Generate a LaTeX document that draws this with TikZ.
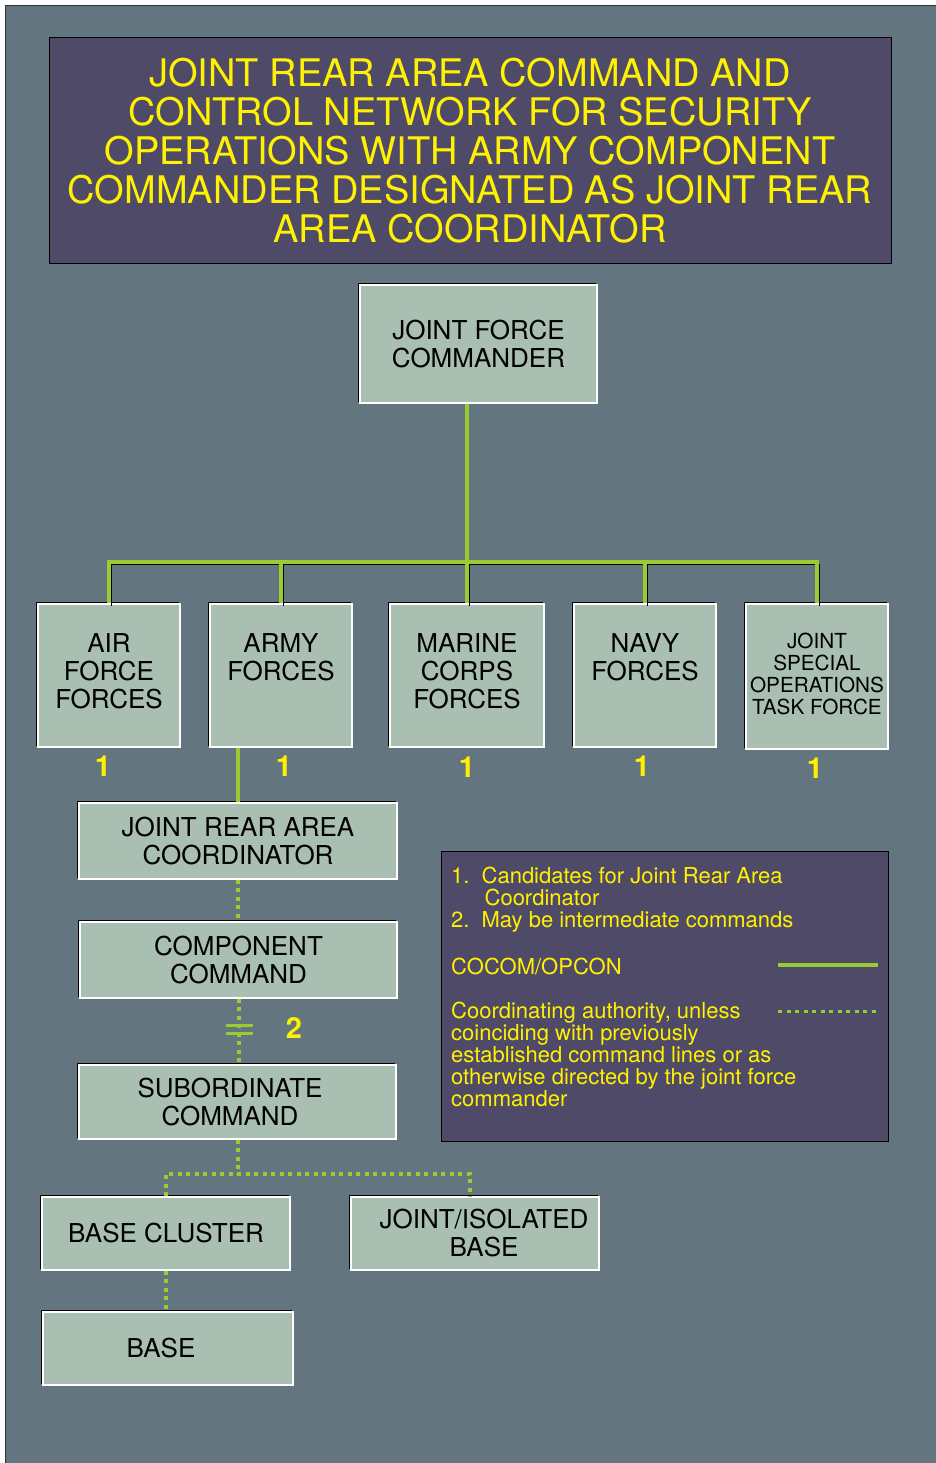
\documentclass[tikz,border=0pt]{standalone}
\usepackage{fontspec}
\setmainfont{TeX Gyre Heros}

\definecolor{bggray}{RGB}{99,118,128}
\definecolor{boxfill}{RGB}{168,191,178}
\definecolor{panel}{RGB}{79,74,104}
\definecolor{linegreen}{RGB}{153,204,51}
\definecolor{txtyellow}{RGB}{255,242,0}

\begin{document}
\begin{tikzpicture}[x=1pt, y=-1pt,
  orgbox/.style={fill=boxfill, draw=white, line width=1.2pt, inner sep=0pt, align=center,
    font=\fontsize{26}{28}\selectfont,
    preaction={draw=black, line width=1.2pt, transform canvas={shift={(-1.5pt,1.5pt)}}}},
  forcebox/.style={orgbox, minimum width=142pt, minimum height=143pt},
  cmdbox/.style={orgbox, minimum width=317pt, minimum height=76pt},
  basebox/.style={orgbox, minimum width=248pt, minimum height=73pt},
  panelbox/.style={fill=panel, draw=black, line width=1pt, text=txtyellow, inner sep=0pt},
  cocom/.style={draw=linegreen, line width=4pt},
  shadowed/.style={preaction={draw=black, line width=1pt, transform canvas={shift={(2.5pt,-2.5pt)}}}},
  coordline/.style={draw=linegreen, line width=4pt, dash pattern=on 4pt off 4.5pt},
  candnum/.style={text=txtyellow, font=\fontsize{29}{30}\selectfont\bfseries},
  legendtxt/.style={text=txtyellow, anchor=west, align=left, inner sep=0pt,
    font=\fontsize{22}{22}\selectfont}]

  \useasboundingbox (0,0) rectangle (935,1463);
  \filldraw[fill=bggray, draw=black!80, line width=1pt] (5.5,5.5) rectangle (940,1470);

  \node[panelbox, minimum width=842pt, minimum height=225pt, align=center,
    font=\fontsize{38}{39}\selectfont] (title) at (470,150.5)
    {JOINT REAR AREA COMMAND AND\\CONTROL NETWORK FOR SECURITY\\OPERATIONS WITH ARMY COMPONENT\\COMMANDER DESIGNATED AS JOINT REAR\\AREA COORDINATOR};

  \node[orgbox, minimum width=237pt, minimum height=118pt] (jfc) at (478.5,344) {JOINT FORCE\\COMMANDER};

  \node[forcebox] (af)   at (109,675.5) {AIR\\FORCE\\FORCES\\[-20pt]~};
  \node[forcebox] (army) at (281,675.5) {ARMY\\FORCES\\~\\[-20pt]~};
  \node[forcebox, minimum width=154pt] (mc) at (467,675.5) {MARINE\\CORPS\\FORCES\\[-20pt]~};
  \node[forcebox] (navy) at (645,675.5) {NAVY\\FORCES\\~\\[-20pt]~};
  \node[forcebox, minimum height=145pt, font=\fontsize{20.7}{22}\selectfont] (jsotf) at (817,676.5)
    {JOINT\\SPECIAL\\OPERATIONS\\TASK FORCE\\[-16pt]~};

  \node[candnum] (afnum)    at (103,766) {1};
  \node[candnum] (armynum)  at (284,766) {1};
  \node[candnum] (mcnum)    at (467,767) {1};
  \node[candnum] (navynum)  at (642,766) {1};
  \node[candnum] (jsotfnum) at (815,768) {1};

  \node[cmdbox, minimum width=318pt] (jrac) at (238,841) {JOINT REAR AREA\\COORDINATOR};
  \node[cmdbox] (cc) at (238.5,960) {COMPONENT\\COMMAND};
  \node[cmdbox, minimum height=74pt] (sub) at (237.5,1102) {SUBORDINATE\hspace*{15pt}\\COMMAND\hspace*{15pt}};
  \node[candnum] (subnum) at (294,1028) {2};

  \node[basebox] (bc)  at (166,1233.5) {BASE CLUSTER};
  \node[basebox] (jib) at (475,1233.5) {\hspace*{18pt}JOINT/ISOLATED\\\hspace*{18pt}BASE};
  \node[basebox, minimum width=250pt] (base) at (168,1348.5) {BASE\hspace*{14pt}};

  \coordinate (bus)   at (467,562);
  \coordinate (split) at (237.5,1174);
  \coordinate (brk)   at (238.5,1029);

  \draw[cocom] (jfc.south -| bus) -- (bus);
  \draw[cocom, shadowed] (af.north) |- (bus) -| (jsotf.north)
    (army.north) -- (army.north |- bus)
    (navy.north) -- (navy.north |- bus)
    (mc.north) -- (bus);
  \draw[cocom] (army.south -| jrac.north) -- (jrac.north);

  \draw[coordline] (jrac.south) -- (jrac.south |- cc.north);
  \draw[coordline] (cc.south) -- (cc.south |- sub.north);
  \draw[cocom, line width=3pt] ([shift={(-13,-4)}]brk) -- ++(27,0);
  \draw[cocom, line width=3pt] ([shift={(-13,4)}]brk) -- ++(27,0);
  \draw[coordline] (sub.south) -- (split);
  \draw[coordline] (bc.north) |- (split) -| ([xshift=-5pt]jib.north);
  \draw[coordline] (bc.south) -- (bc.south |- base.north);

  \node[panelbox, minimum width=447pt, minimum height=290pt] (legend) at (664.5,996) {};
  \node[legendtxt] (notes) at (451,899.5)
    {1.\hspace{0.55em}Candidates for Joint Rear Area\\\hspace*{1.52em}Coordinator\\2.\hspace{0.55em}May be intermediate commands};
  \node[legendtxt] (cocomtxt) at (451,966) {COCOM/OPCON};
  \node[legendtxt] (coordtxt) at (451,1054)
    {Coordinating authority, unless\\coinciding with previously\\established command lines or as\\otherwise directed by the joint force\\commander};

  \coordinate (cocomA) at (778,965);
  \coordinate (cocomB) at (878,965);
  \coordinate (coordA) at (778,1011);
  \coordinate (coordB) at (878,1011);
  \draw[cocom] (cocomA) -- (cocomB);
  \draw[coordline, line width=3pt] (coordA) -- (coordB);
\end{tikzpicture}
\end{document}
